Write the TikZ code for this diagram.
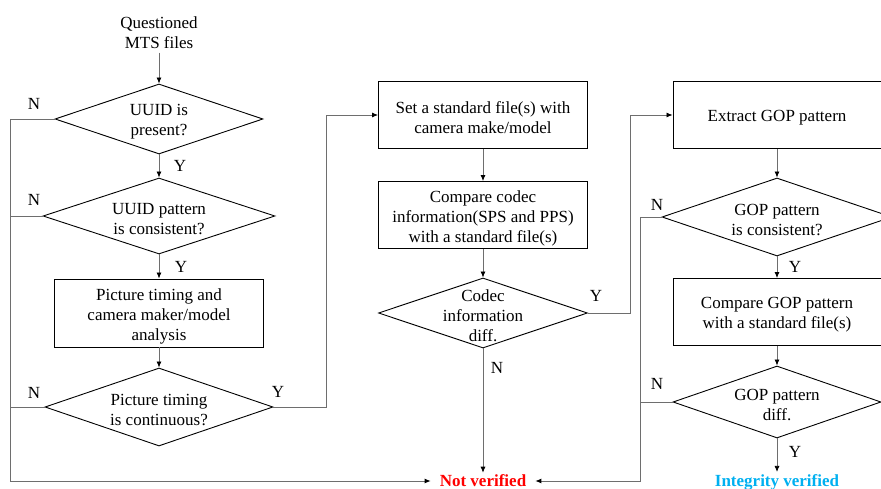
\documentclass[tikz,border=0pt]{standalone}
\usepackage{fontspec}
\setmainfont{Liberation Serif}
\usetikzlibrary{shapes.geometric,arrows.meta}
\definecolor{linegray}{RGB}{110,110,110}
\definecolor{okblue}{RGB}{0,176,240}
\tikzset{
  base/.style={font=\fontsize{17}{20}\selectfont, align=center},
  inner text/.style={base, yshift=-3pt},
  procbox/.style={draw=black, line width=0.9pt, minimum height=67pt, inner sep=0pt,
                  label={[inner text]center:#1}},
  decision/.style={diamond, draw=black, line width=0.9pt, inner sep=0pt, shape aspect=3,
                   label={[inner text]center:#1}},
  conn/.style={draw=linegray, line width=0.8pt},
  arr/.style={conn, -{Latex[length=6pt,width=5pt,color=black]}},
  lbl/.style={base, inner sep=0pt},
  result/.style={font=\fontsize{17}{20}\selectfont\bfseries, inner xsep=9pt, inner ysep=2pt}
}
\begin{document}
\begin{tikzpicture}[x=1pt,y=-1pt]
\useasboundingbox (0,0) rectangle (881,489);

% left column
\node[base] (start) at (159,33) {Questioned\\MTS files};
\node[decision={UUID is\\present?}, minimum width=208pt, minimum height=70pt] (d1) at (159,119) {};
\node[decision={UUID pattern\\is consistent?}, minimum width=232pt, minimum height=76pt] (d2) at (159,216) {};
\node[procbox={Picture timing and\\camera maker/model\\analysis}, minimum width=209pt, minimum height=68pt] (p1) at (159,313) {};
\node[decision={Picture timing\\is continuous?}, minimum width=228pt, minimum height=78pt] (d3) at (159,407) {};

% middle column
\node[procbox={Set a standard file(s) with\\camera make/model}, minimum width=209pt] (b1) at (483,115) {};
\node[procbox={Compare codec\\information(SPS and PPS)\\with a standard file(s)}, minimum width=209pt] (b2) at (483,215) {};
\node[decision={Codec\\information\\diff.}, minimum width=209pt, minimum height=70pt] (d4) at (483,313) {};

% right column
\node[procbox={Extract GOP pattern}, minimum width=208pt] (b3) at (777,115) {};
\node[decision={GOP pattern\\is consistent?}, minimum width=230pt, minimum height=78pt] (d5) at (777,217) {};
\node[procbox={Compare GOP pattern\\with a standard file(s)}, minimum width=208pt] (b4) at (777,312) {};
\node[decision={GOP pattern\\diff.}, minimum width=208pt, minimum height=72pt] (d6) at (777,402) {};

% outcomes
\node[result, text=red] (nv) at (483,481) {Not verified};
\node[result, text=okblue] (iv) at (777,482) {Integrity verified};

% routing columns for the side lines
\coordinate (lx) at (10,0);
\coordinate (mx1) at (326,0);
\coordinate (mx2) at (630,0);
\coordinate (rx) at (640,0);

% main flow
\draw[arr] (start.south) -- (d1.north);
\draw[arr] (d1.south) -- (d2.north);
\draw[arr] (d2.south) -- (p1.north);
\draw[arr] (p1.south) -- (d3.north);
\draw[arr] (d3.east) -- (d3.east -| mx1) |- (b1.west);
\draw[arr] (b1.south) -- (b2.north);
\draw[arr] (b2.south) -- (d4.north);
\draw[arr] (d4.south) -- (nv.north);
\draw[arr] (d4.east) -- (d4.east -| mx2) |- (b3.west);
\draw[arr] (b3.south) -- (d5.north);
\draw[arr] (d5.south) -- (b4.north);
\draw[arr] (b4.south) -- (d6.north);
\draw[arr] (d6.south) -- (iv.north);

% failure paths
\draw[conn] (d1.west) -- (d1.west -| lx);
\draw[conn] (d2.west) -- (d2.west -| lx);
\draw[conn] (d3.west) -- (d3.west -| lx);
\draw[arr] (d1.west -| lx) |- (nv.west);
\draw[conn] (d6.west) -- (d6.west -| rx);
\draw[arr] (d5.west) -- (d5.west -| rx) |- (nv.east);

% branch labels
\node[lbl] (n1) at (34,104) {N};
\node[lbl] (n2) at (34,200) {N};
\node[lbl] (n3) at (34,393) {N};
\node[lbl] (y1) at (180,166) {Y};
\node[lbl] (y2) at (181,267) {Y};
\node[lbl] (y3) at (278,392) {Y};
\node[lbl] (n4) at (497,368) {N};
\node[lbl] (y4) at (596,296) {Y};
\node[lbl] (n5) at (657,205) {N};
\node[lbl] (n6) at (657,384) {N};
\node[lbl] (y5) at (795,267) {Y};
\node[lbl] (y6) at (795,452) {Y};
\end{tikzpicture}
\end{document}
